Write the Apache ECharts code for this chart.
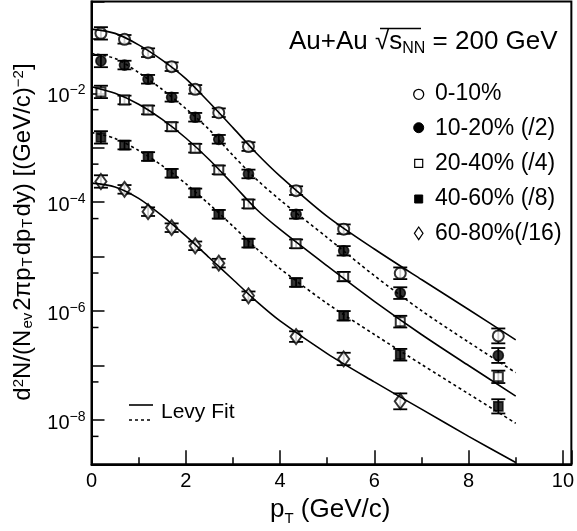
<!DOCTYPE html>
<html><head><meta charset="utf-8">
<script src="https://cdn.jsdelivr.net/npm/echarts@6/dist/echarts.min.js"></script>
<style>html,body{margin:0;padding:0;background:#fff}#c{width:577px;height:531px}</style>
</head><body><div id="c"></div>
<script>
// ---- data ----
const pT = [0.2, 0.7, 1.2, 1.7, 2.2, 2.7, 3.33, 4.34, 5.35, 6.55, 8.63];
const c0_10  = [0.126, 0.098, 0.0557, 0.0308, 0.0118, 0.0044, 0.00105, 1.63e-4, 3.2e-5, 4.95e-6, 3.5e-7];
const c10_20 = [0.0392, 0.033, 0.0181, 0.00845, 0.00363, 0.00143, 3.3e-4, 6.0e-5, 1.28e-5, 2.14e-6, 1.53e-7];
const c20_40 = [0.0106, 0.00754, 0.00494, 0.00244, 9.8e-4, 3.92e-4, 9.3e-5, 1.72e-5, 4.3e-6, 6.4e-7, 6.2e-8];
const c40_60 = [0.00155, 0.00112, 6.9e-4, 3.4e-4, 1.48e-4, 6.0e-5, 1.77e-5, 3.35e-6, 8.2e-7, 1.58e-7, 1.78e-8];
const c60_80 = [2.4e-4, 1.72e-4, 6.7e-5, 3.4e-5, 1.58e-5, 7.6e-6, 1.91e-6, 3.4e-7, 1.32e-7, 2.2e-8];
// relative errors
const e0_10  = [0.3, 0.2, 0.2, 0.2, 0.2, 0.2, 0.2, 0.2, 0.22, 0.28, 0.37];
const e10_20 = [0.3, 0.2, 0.2, 0.2, 0.2, 0.2, 0.2, 0.2, 0.22, 0.28, 0.37];
const e20_40 = [0.3, 0.2, 0.2, 0.2, 0.2, 0.2, 0.2, 0.2, 0.22, 0.28, 0.3];
const e40_60 = [0.3, 0.2, 0.2, 0.2, 0.2, 0.2, 0.2, 0.2, 0.22, 0.28, 0.35];
const e60_80 = [0.3, 0.2, 0.2, 0.2, 0.2, 0.2, 0.2, 0.25, 0.3, 0.4];
// Levy fit curves
const fitX = [0, 0.5, 1, 1.5, 2, 2.5, 3, 3.5, 4, 5, 6, 7, 8, 9];
const f0_10  = [0.151, 0.126, 0.0776, 0.0407, 0.0186, 0.00676, 0.00234, 7.94e-4, 3.02e-4, 5.5e-5, 1.38e-5, 3.8e-6, 1.07e-6, 2.95e-7];
const f10_20 = [0.0537, 0.0437, 0.024, 0.01175, 0.00525, 0.00214, 7.24e-4, 2.63e-4, 1.1e-4, 2.24e-5, 4.47e-6, 1.02e-6, 2.69e-7, 7.4e-8];
const f20_40 = [0.0132, 0.01, 0.00631, 0.00331, 0.00151, 6.03e-4, 2.14e-4, 7.41e-5, 3.16e-5, 6.76e-6, 1.51e-6, 3.72e-7, 1.0e-7, 2.75e-8];
const f40_60 = [0.001905, 0.00148, 8.91e-4, 4.68e-4, 2.19e-4, 9.12e-5, 3.63e-5, 1.41e-5, 6.03e-6, 1.38e-6, 3.72e-7, 1.05e-7, 3.02e-8, 8.7e-9];
const f60_80 = [2.24e-4, 1.905e-4, 1.175e-4, 5.62e-5, 2.4e-5, 9.55e-6, 3.8e-6, 1.51e-6, 6.61e-7, 1.66e-7, 5.01e-8, 1.58e-8, 5.01e-9, 1.66e-9];
const yMinorTicks = [5e-9, 5e-8, 5e-7, 5e-6, 5e-5, 5e-4, 5e-3, 5e-2];
const legendLabels = ['0-10%', '10-20% (/2)', '20-40% (/4)', '40-60% (/8)', '60-80%(/16)'];

const FF = 'Liberation Sans, Arial, Helvetica, sans-serif';
const chart = echarts.init(document.getElementById('c'), null, {renderer: 'canvas'});

function pts(y) { return y.map((v, i) => [pT[i], v]); }
function errs(y, e) { return y.map((v, i) => [pT[i], v / (1 + e[i]), v * (1 + e[i])]); }
function fit(y) { return y.map((v, i) => [fitX[i], v]); }

function errRender(params, api) {
  const x = api.value(0);
  const a = api.coord([x, api.value(1)]);
  const b = api.coord([x, api.value(2)]);
  const hw = 7;
  const st = {stroke: '#000', lineWidth: 1.8};
  return {type: 'group', children: [
    {type: 'line', shape: {x1: a[0], y1: a[1], x2: b[0], y2: b[1]}, style: st},
    {type: 'line', shape: {x1: a[0] - hw, y1: a[1], x2: a[0] + hw, y2: a[1]}, style: st},
    {type: 'line', shape: {x1: b[0] - hw, y1: b[1], x2: b[0] + hw, y2: b[1]}, style: st}
  ]};
}
function tickRender(params, api) {
  const p = api.coord([0, api.value(1)]);
  return {type: 'line', shape: {x1: p[0], y1: p[1], x2: p[0] + 7, y2: p[1]}, style: {stroke: '#000', lineWidth: 1.5}};
}

const sets = [
  {d: c0_10, e: e0_10, f: f0_10, sym: 'emptyCircle', size: 11, dash: 'solid'},
  {d: c10_20, e: e10_20, f: f10_20, sym: 'circle', size: 10, dash: [3, 3]},
  {d: c20_40, e: e20_40, f: f20_40, sym: 'emptyRect', size: 9, dash: 'solid'},
  {d: c40_60, e: e40_60, f: f40_60, sym: 'rect', size: 9, dash: [3, 3]},
  {d: c60_80, e: e60_80, f: f60_80, sym: 'emptyDiamond', size: [11, 15], dash: 'solid'}
];
const series = [];
sets.forEach((s, k) => {
  series.push({type: 'custom', name: 'err' + k, renderItem: errRender, data: errs(s.d, s.e),
    encode: {x: 0, y: [1, 2]}, z: 2, silent: true});
  series.push({type: 'scatter', name: legendLabels[k], data: pts(s.d), symbol: s.sym, symbolSize: s.size,
    itemStyle: {color: '#000', borderColor: '#000', borderWidth: 1.7}, z: 3});
  series.push({type: 'line', name: 'fit' + k, data: fit(s.f), smooth: 0.3, showSymbol: false,
    lineStyle: {color: '#000', width: 1.6, type: s.dash}, z: 4, silent: true});
});
series.push({type: 'custom', name: 'yminor', renderItem: tickRender, data: yMinorTicks.map(v => [0, v]),
  encode: {x: 0, y: 1}, z: 5, silent: true});

const sqrtNN = '{a|Au+Au √s}{sub|NN}{a| = 200 GeV}';
const gText = [];
legendLabels.forEach((t, i) => {
  gText.push({type: 'text', x: 435, y: [93.8, 128.7, 163.7, 198.7, 233.7][i],
    style: {text: t, font: '23px ' + FF, fill: '#000', align: 'left', verticalAlign: 'middle'}});
});

const option = {
  animation: false,
  backgroundColor: '#fff',
  grid: {left: 91.5, top: 1.5, right: 3.3, bottom: 66.7, show: true, borderColor: '#000', borderWidth: 2, backgroundColor: 'transparent'},
  xAxis: [
    {type: 'value', position: 'bottom', min: 0, max: 10.18, interval: 2,
     axisLine: {show: true, lineStyle: {color: '#000', width: 2}},
     axisTick: {show: true, inside: true, length: 14, lineStyle: {color: '#000', width: 1.5}},
     axisLabel: {margin: 7, fontSize: 20, fontFamily: FF, color: '#000',
       formatter: v => (v <= 10.0001 && Math.abs(v / 2 - Math.round(v / 2)) < 1e-9) ? String(Math.round(v)) : ''},
     splitLine: {show: false}},
    {type: 'value', position: 'bottom', min: 0, max: 10.18, interval: 1,
     axisLine: {show: false}, axisLabel: {show: false}, splitLine: {show: false},
     axisTick: {show: true, inside: true, length: 7, lineStyle: {color: '#000', width: 1.5}}}
  ],
  yAxis: {type: 'log', logBase: 10, min: 1.535e-9, max: 0.485, splitNumber: 5,
    axisLine: {show: true, lineStyle: {color: '#000', width: 2}},
    axisTick: {show: true, inside: true, length: 13, lineStyle: {color: '#000', width: 1.5}},
    splitLine: {show: false},
    axisLabel: {margin: 6, color: '#000',
      formatter: v => {
        const e = Math.log10(v), r = Math.round(e);
        if (Math.abs(e - r) > 1e-6 || r % 2 !== 0) return '';
        return '{b|10}{s|' + (r < 0 ? '−' : '') + Math.abs(r) + '}';
      },
      rich: {
        b: {fontSize: 20, lineHeight: 20, padding: [7, 0, 0, 0], fontFamily: FF, color: '#000'},
        s: {fontSize: 14, lineHeight: 14, verticalAlign: 'top', fontFamily: FF, color: '#000'}
      }}
  },
  series: series,
  graphic: [
    // y-axis title
    {type: 'text', x: 23, y: 232, rotation: Math.PI / 2,
     style: {text: '{a|d}{p|2}{a|N/(N}{b|ev}{a|2πp}{b|T}{a|dp}{b|T}{a|dy) [(GeV/c)}{p|−2}{a|]}',
       align: 'center', verticalAlign: 'middle',
       rich: {
         a: {fontSize: 24, lineHeight: 24, padding: [7, 0, 7, 0], fontFamily: FF, color: '#000'},
         p: {fontSize: 15, lineHeight: 15, verticalAlign: 'top', fontFamily: FF, color: '#000'},
         b: {fontSize: 15, lineHeight: 15, verticalAlign: 'bottom', padding: [0, 2, 0, 1], fontFamily: FF, color: '#000'}
       }}},
    // x-axis title
    {type: 'text', x: 270, y: 513,
     style: {text: '{a|p}{b|T}{a| (GeV/c)}', align: 'left', verticalAlign: 'middle',
       rich: {
         a: {fontSize: 26, lineHeight: 26, padding: [0, 0, 7, 0], fontFamily: FF, color: '#000'},
         b: {fontSize: 15, lineHeight: 15, verticalAlign: 'bottom', fontFamily: FF, color: '#000'}
       }}},
    // system label
    {type: 'text', x: 289, y: 44,
     style: {text: sqrtNN, align: 'left', verticalAlign: 'middle',
       rich: {
         a: {fontSize: 26, lineHeight: 26, padding: [0, 0, 5, 0], fontFamily: FF, color: '#000'},
         sub: {fontSize: 16, lineHeight: 16, verticalAlign: 'bottom', fontFamily: FF, color: '#000'}
       }}},
    {type: 'line', shape: {x1: 380, y1: 28.5, x2: 421, y2: 28.5}, style: {stroke: '#000', lineWidth: 1.3}},
    // legend markers
    {type: 'circle', shape: {cx: 418.7, cy: 94.3, r: 5}, style: {fill: '#fff', stroke: '#000', lineWidth: 1.3}},
    {type: 'circle', shape: {cx: 418.7, cy: 127.7, r: 5}, style: {fill: '#000', stroke: '#000', lineWidth: 1}},
    {type: 'rect', shape: {x: 414.7, y: 159.3, width: 8, height: 8}, style: {fill: '#fff', stroke: '#000', lineWidth: 1.2}},
    {type: 'rect', shape: {x: 414.7, y: 195, width: 8, height: 8}, style: {fill: '#000', stroke: '#000', lineWidth: 1}},
    {type: 'polygon', shape: {points: [[418.7, 227], [423, 233.3], [418.7, 239.6], [414.4, 233.3]]}, style: {fill: '#fff', stroke: '#000', lineWidth: 1.2}},
    ...gText,
    // fit legend
    {type: 'line', shape: {x1: 129, y1: 405, x2: 153, y2: 405}, style: {stroke: '#000', lineWidth: 1.6}},
    {type: 'line', shape: {x1: 129, y1: 420, x2: 153, y2: 420}, style: {stroke: '#000', lineWidth: 1.6, lineDash: [3, 3]}},
    {type: 'text', x: 161, y: 412.6, style: {text: 'Levy Fit', font: '21px ' + FF, fill: '#000', align: 'left', verticalAlign: 'middle'}}
  ]
};
chart.setOption(option);
</script>
</body></html>
